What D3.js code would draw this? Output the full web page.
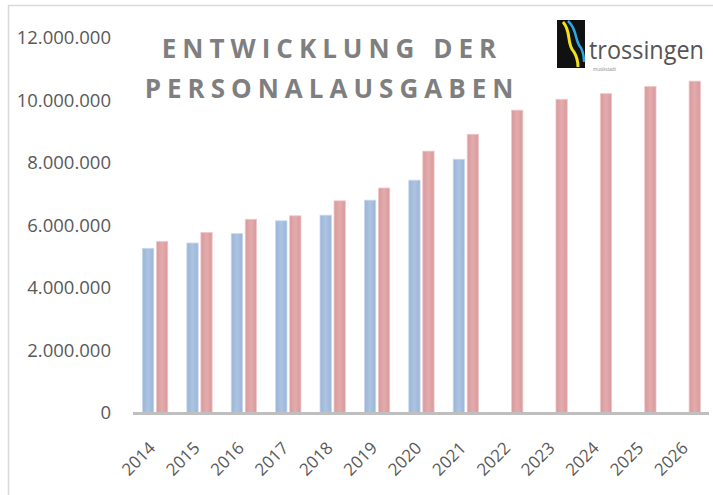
<!DOCTYPE html>
<html>
<head>
<meta charset="utf-8">
<script src="https://cdn.jsdelivr.net/npm/d3@7"></script>
<style>
  body { margin: 0; background: #fff; }
  svg { display: block; font-family: "Open Sans", Lato, sans-serif; }
</style>
</head>
<body>
<svg width="713" height="495"></svg>
<script>
// data
var years = ["2014","2015","2016","2017","2018","2019","2020","2021","2022","2023","2024","2025","2026"];
var ist = [5270000, 5440000, 5740000, 6150000, 6330000, 6810000, 7450000, 8120000, null, null, null, null, null];
var plan = [5490000, 5780000, 6200000, 6310000, 6790000, 7200000, 8380000, 8920000, 9690000, 10040000, 10220000, 10450000, 10620000];
var yTicks = [0, 2000000, 4000000, 6000000, 8000000, 10000000, 12000000];

var svg = d3.select("svg");

// light frame
svg.append("path")
    .attr("d", "M8.5,495 V5.5 H713")
    .attr("fill", "none")
    .attr("stroke", "#d9d9d9")
    .attr("stroke-width", 1.5);

var x = d3.scaleBand().domain(years).range([133, 710]);
var y = d3.scaleLinear().domain([0, 12000000]).range([413, 38]);

var defs = svg.append("defs");
function barGrad(id, c1, c2) {
  var g = defs.append("linearGradient").attr("id", id)
      .attr("x1", 0).attr("x2", 1).attr("y1", 0).attr("y2", 0);
  g.append("stop").attr("offset", 0).attr("stop-color", c2);
  g.append("stop").attr("offset", 0.5).attr("stop-color", c1);
  g.append("stop").attr("offset", 1).attr("stop-color", c2);
}
barGrad("blue-grad", "#adc4e1", "#9ab5d9");
barGrad("red-grad", "#e3abac", "#d9999b");

//y labels
svg.append("g").selectAll("text")
    .data(yTicks)
    .enter().append("text")
    .attr("x", 111)
    .attr("y", function(d) { return y(d); })
    .attr("dy", "0.35em")
    .attr("text-anchor", "end")
    .attr("fill", "#595959")
    .style("font-size", "18.5px")
    .text(function(d) { return d3.format(",")(d).replace(/,/g, "."); });

var bw = 11.3;
//bars
svg.append("g").selectAll("rect")
    .data(years.filter(function(d, i) { return ist[i] != null; }))
    .enter().append("rect")
    .attr("x", function(d) { return x(d) + x.bandwidth() / 2 - 12.7; })
    .attr("y", function(d) { return y(ist[years.indexOf(d)]); })
    .attr("width", bw)
    .attr("height", function(d) { return y(0) - y(ist[years.indexOf(d)]); })
    .attr("fill", "url(#blue-grad)")
    .attr("stroke", "#c9d8ec")
    .attr("stroke-width", 0.8);

svg.append("g").selectAll("rect")
    .data(years)
    .enter().append("rect")
    .attr("x", function(d) { return x(d) + x.bandwidth() / 2 + 1.3; })
    .attr("y", function(d, i) { return y(plan[i]); })
    .attr("width", bw)
    .attr("height", function(d, i) { return y(0) - y(plan[i]); })
    .attr("fill", "url(#red-grad)")
    .attr("stroke", "#efc9ca")
    .attr("stroke-width", 0.8);

// x axis line
svg.append("line")
    .attr("x1", 133).attr("x2", 709)
    .attr("y1", y(0) + 0.5).attr("y2", y(0) + 0.5)
    .attr("stroke", "#bfbfbf")
    .attr("stroke-width", 3);

// year labels
svg.append("g").selectAll("text")
    .data(years)
    .enter().append("text")
    .attr("transform", function(d) {
      return "translate(" + (x(d) + x.bandwidth() / 2 - 3) + ",445) rotate(-45)";
    })
    .attr("text-anchor", "end")
    .attr("dy", "0.35em")
    .attr("fill", "#595959")
    .style("font-size", "17px")
    .text(function(d) { return d; });

// title
var title = svg.append("text")
    .attr("text-anchor", "middle")
    .attr("fill", "#7f7f7f")
    .style("font-size", "26px")
    .style("font-weight", "bold")
    .style("letter-spacing", "6px");
title.append("tspan").attr("x", 332).attr("y", 58).text("ENTWICKLUNG DER");
title.append("tspan").attr("x", 332).attr("y", 98).text("PERSONALAUSGABEN");

// logo
var logo = svg.append("g");
logo.append("rect").attr("x", 557).attr("y", 20).attr("width", 28).attr("height", 48).attr("fill", "#111");
logo.append("path")
    .attr("d", "M563,22 C572,32 566,44 574,52 C577,57 578,62 578,67")
    .attr("fill", "none").attr("stroke", "#f2e01b").attr("stroke-width", 3);
logo.append("path")
    .attr("d", "M568,21 C578,30 574,40 581,48 C583,52 584,56 584,62")
    .attr("fill", "none").attr("stroke", "#29a8e0").attr("stroke-width", 2.5);
var brand = logo.append("text")
    .attr("fill", "#555")
    .style("font-size", "26px")
    .text("trossingen");
var sx = 115 / brand.node().getComputedTextLength();
brand.attr("transform", "translate(589,59) scale(" + sx + ",1)");
logo.append("text")
    .attr("x", 593).attr("y", 71)
    .attr("fill", "#888")
    .style("font-size", "4.5px")
    .text("musikstadt");
</script>
</body>
</html>
